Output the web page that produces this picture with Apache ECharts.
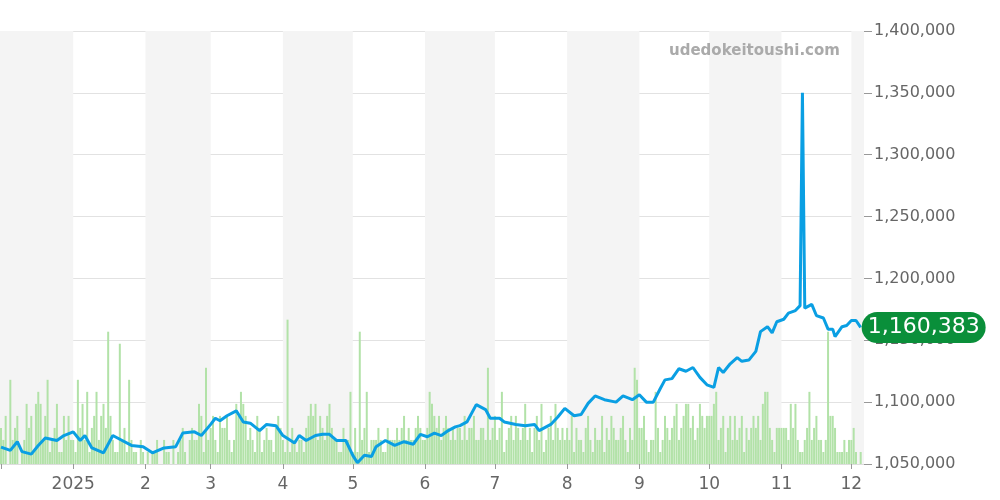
<!DOCTYPE html>
<html><head><meta charset="utf-8">
<script src="https://cdn.jsdelivr.net/npm/echarts@6/dist/echarts.min.js"></script>
<style>html,body{margin:0;padding:0;background:#fff}#c{width:1000px;height:500px}</style>
</head><body><div id="c"></div>
<script>
const priceDates = ['2024-12-01','2024-12-05','2024-12-08','2024-12-10','2024-12-14','2024-12-17','2024-12-20','2024-12-25','2024-12-28','2025-01-01','2025-01-04','2025-01-06','2025-01-09','2025-01-14','2025-01-18','2025-01-21','2025-01-26','2025-01-31','2025-02-04','2025-02-09','2025-02-14','2025-02-17','2025-02-22','2025-02-25','2025-03-01','2025-03-03','2025-03-05','2025-03-08','2025-03-12','2025-03-15','2025-03-18','2025-03-22','2025-03-25','2025-03-29','2025-04-01','2025-04-06','2025-04-08','2025-04-11','2025-04-15','2025-04-18','2025-04-21','2025-04-24','2025-04-28','2025-05-01','2025-05-03','2025-05-06','2025-05-09','2025-05-11','2025-05-15','2025-05-19','2025-05-23','2025-05-27','2025-05-30','2025-06-02','2025-06-05','2025-06-08','2025-06-11','2025-06-14','2025-06-16','2025-06-19','2025-06-23','2025-06-27','2025-06-29','2025-07-03','2025-07-05','2025-07-10','2025-07-14','2025-07-18','2025-07-20','2025-07-25','2025-07-28','2025-07-31','2025-08-04','2025-08-07','2025-08-10','2025-08-13','2025-08-17','2025-08-22','2025-08-25','2025-08-29','2025-09-01','2025-09-04','2025-09-07','2025-09-10','2025-09-12','2025-09-15','2025-09-18','2025-09-21','2025-09-24','2025-09-27','2025-09-30','2025-10-03','2025-10-05','2025-10-07','2025-10-10','2025-10-13','2025-10-15','2025-10-18','2025-10-21','2025-10-23','2025-10-26','2025-10-28','2025-10-30','2025-11-02','2025-11-04','2025-11-07','2025-11-09','2025-11-10','2025-11-11','2025-11-14','2025-11-16','2025-11-19','2025-11-21','2025-11-23','2025-11-24','2025-11-27','2025-11-29','2025-12-01','2025-12-03','2025-12-05'];
const prices = [1063700,1061000,1068000,1060000,1058000,1065000,1071000,1069000,1073000,1076000,1069000,1073000,1063000,1059000,1073000,1070000,1065000,1064000,1059000,1063000,1064000,1075000,1076000,1073000,1082000,1087000,1085000,1089000,1093000,1084000,1083000,1077000,1082000,1081000,1073000,1067000,1073000,1069000,1073000,1074000,1074000,1069000,1069000,1057000,1051000,1057000,1056000,1064000,1069000,1065000,1068000,1066000,1074000,1072000,1075000,1073000,1077000,1080000,1081000,1084000,1098000,1094000,1087000,1087000,1084000,1082000,1081000,1082000,1077000,1082000,1088000,1095000,1089000,1090000,1099000,1105000,1102000,1100000,1105000,1102000,1106000,1100000,1100000,1111000,1118000,1119000,1127000,1125000,1128000,1120000,1114000,1112000,1128000,1124000,1131000,1136000,1133000,1134000,1141000,1157000,1161000,1156000,1165000,1167000,1172000,1174000,1178000,1350000,1176000,1179000,1170000,1168000,1159000,1159000,1153000,1161000,1162000,1166000,1166000,1160383];
const volumeStart = '2024-12-01';
const volumes = [
3,2,4,0,7,2,3,4,0,1,2,5,3,4,1,5,6,5,2,4,7,1,2,3,5,1,1,4,2,4,2,
2,1,7,3,5,2,6,1,3,4,6,2,4,5,3,11,4,2,1,1,10,2,3,1,7,2,1,1,0,2,1,
0,1,0,1,1,2,0,0,2,1,1,0,2,0,1,2,3,1,0,2,3,2,2,5,4,1,8,2,
3,4,2,1,4,3,3,4,2,1,2,5,4,6,5,4,2,3,2,1,4,3,1,2,3,2,2,1,3,4,3,
2,1,12,1,3,2,1,2,2,1,3,4,5,4,5,2,4,3,2,4,5,3,2,2,1,1,3,2,2,6,
1,3,1,11,2,3,6,1,2,2,2,3,2,1,1,3,2,2,2,3,2,3,4,2,3,2,2,3,4,3,2,
2,3,6,5,4,3,4,2,3,4,3,2,3,2,3,3,2,4,2,3,3,4,2,2,3,3,2,8,2,3,
4,2,3,6,1,2,3,4,2,4,3,2,3,5,2,3,1,3,4,2,5,1,2,3,4,2,5,3,2,3,2,
3,2,4,1,3,2,2,1,3,4,2,1,3,2,2,4,1,3,2,4,3,2,2,3,4,2,1,3,2,8,7,
3,3,4,2,1,2,2,6,3,1,2,4,3,2,3,4,5,2,3,4,5,5,3,4,2,3,5,4,3,4,
4,4,5,6,2,3,4,1,3,4,2,4,2,3,4,1,3,2,3,4,3,4,2,5,6,6,3,2,1,3,3,
3,3,3,2,5,3,5,2,1,1,2,3,6,2,3,4,2,2,1,2,11,4,4,3,1,1,1,2,1,2,
2,3,1,0,1];
const shadedMonths = [['2024-11-01','2025-01-01'],['2025-02-01','2025-03-01'],['2025-04-01','2025-05-01'],['2025-06-01','2025-07-01'],['2025-08-01','2025-09-01'],['2025-10-01','2025-11-01'],['2025-12-01','2026-01-01']];

const ts = s => new Date(s + 'T00:00:00').getTime();
const DAY = 86400000;
const volData = volumes.map((v, i) => [ts(volumeStart) + i * DAY, v]);
const priceData = priceDates.map((d, i) => [ts(d), prices[i]]);
const xMin = ts('2024-12-01'), xMax = ts('2025-12-06');
const FONT = 'DejaVu Sans';

const chart = echarts.init(document.getElementById('c'));
chart.setOption({
  animation: false,
  textStyle: {fontFamily: FONT},
  grid: {left: 0, right: 136, top: 31, bottom: 36, outerBoundsMode: 'none', containLabel: false},
  xAxis: {
    type: 'time', min: xMin, max: xMax, splitNumber: 12,
    axisLine: {show: true, lineStyle: {color: '#ddd'}},
    axisTick: {show: true, length: 5, lineStyle: {color: '#999'}},
    axisLabel: {fontSize: 17, color: '#666', margin: 12, hideOverlap: false, fontFamily: FONT,
      formatter: v => { const d = new Date(v); if (d.getDate() !== 1 || d.getFullYear() === 2024) return ''; return d.getMonth() === 0 ? String(d.getFullYear()) : String(d.getMonth() + 1); }},
    splitLine: {show: false}
  },
  yAxis: [{
    type: 'value', position: 'right', min: 1050000, max: 1400000, interval: 50000,
    axisLine: {show: false},
    axisTick: {show: true, length: 8, lineStyle: {color: '#999'}},
    axisLabel: {fontSize: 16, color: '#666', margin: 10, fontFamily: FONT, formatter: v => v.toLocaleString('en-US')},
    splitLine: {lineStyle: {color: '#e2e2e2'}}
  }, {
    type: 'value', min: 0, max: 36, show: false
  }],
  graphic: [{type: 'text', z: 100, left: 669, top: 44, style: {text: 'udedokeitoushi.com', fontSize: 15, fontWeight: 'bold', fill: '#aaa', fontFamily: FONT}}],
  series: [{
    type: 'bar', yAxisIndex: 1, data: volData, barWidth: 2,
    itemStyle: {color: '#b2e2a8'}, silent: true, z: 1,
    markArea: {silent: true, itemStyle: {color: '#f4f4f4'},
      data: shadedMonths.map(m => [{xAxis: ts(m[0])}, {xAxis: ts(m[1])}])}
  }, {
    type: 'line', data: priceData, showSymbol: false, z: 3,
    lineStyle: {color: '#0a9fe3', width: 3}, itemStyle: {color: '#0a9fe3'},
    endLabel: {show: true, formatter: p => p.value[1].toLocaleString('en-US'), fontFamily: FONT,
      backgroundColor: '#0a8f3a', color: '#fff', fontSize: 22, borderRadius: 17, padding: [5, 6, 4, 6], distance: 1}
  }]
});
</script></body></html>
